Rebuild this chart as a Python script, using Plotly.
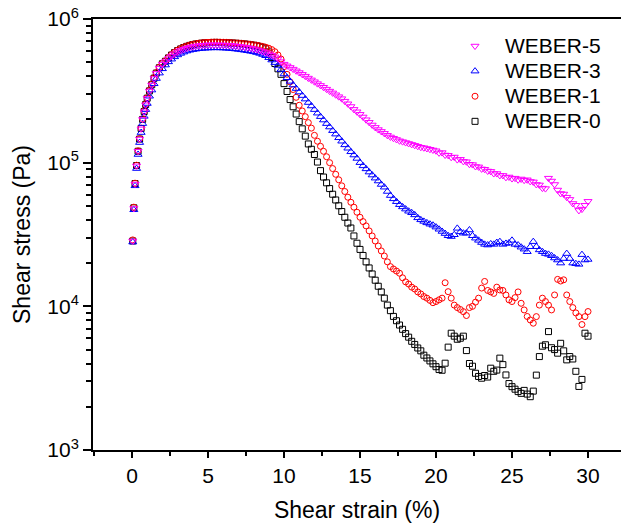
import plotly.graph_objects as go

# strain grid (%) shared by all series
strain = [0.05, 0.12, 0.2, 0.3, 0.4, 0.5, 0.6, 0.7, 0.8, 0.9, 1.0, 1.15, 1.3, 1.45, 1.6, 1.8, 2.0,
          2.2, 2.4, 2.6, 2.8,
          3.0, 3.2, 3.4, 3.6, 3.8, 4.0, 4.2, 4.4, 4.6, 4.8,
          5.0, 5.2, 5.4, 5.6, 5.8, 6.0, 6.2, 6.4, 6.6, 6.8,
          7.0, 7.2, 7.4, 7.6, 7.8, 8.0, 8.2, 8.4, 8.6, 8.8,
          9.0, 9.2, 9.4, 9.6, 9.8, 10.0, 10.2, 10.4, 10.6, 10.8,
          11.0, 11.2, 11.4, 11.6, 11.8, 12.0, 12.2, 12.4, 12.6, 12.8,
          13.0, 13.2, 13.4, 13.6, 13.8, 14.0, 14.2, 14.4, 14.6, 14.8,
          15.0, 15.2, 15.4, 15.6, 15.8, 16.0, 16.2, 16.4, 16.6, 16.8,
          17.0, 17.2, 17.4, 17.6, 17.8, 18.0, 18.2, 18.4, 18.6, 18.8,
          19.0, 19.2, 19.4, 19.6, 19.8, 20.0, 20.2, 20.4, 20.6, 20.8,
          21.0, 21.2, 21.4, 21.6, 21.8, 22.0, 22.2, 22.4, 22.6, 22.8,
          23.0, 23.2, 23.4, 23.6, 23.8, 24.0, 24.2, 24.4, 24.6, 24.8,
          25.0, 25.2, 25.4, 25.6, 25.8, 26.0, 26.2, 26.4, 26.6, 26.8,
          27.0, 27.2, 27.4, 27.6, 27.8, 28.0, 28.2, 28.4, 28.6, 28.8,
          29.0, 29.2, 29.4, 29.6, 29.8, 30.0]

weber5 = [28500, 48000, 71000, 95000, 120000, 146000, 172000, 200000, 226000, 253000,
          280000, 315000, 347000, 385000, 418000, 455000, 485000,
          505000, 530000, 552000, 572000,
          590000, 603000, 615000, 626000, 635000,
          642000, 648000, 652000, 656000, 658000,
          660000, 661000, 661000, 660000, 660000,
          659000, 658000, 656000, 653000, 650000,
          646000, 642000, 637000, 632000, 626000,
          620000, 612000, 603000, 594000, 584000,
          573000, 560000, 545000, 528000, 505000,
          485000, 472000, 460000, 448000, 436000,
          424000, 412000, 400000, 388000, 377000,
          366000, 355000, 345000, 335000, 325000,
          315000, 306000, 297000, 288000, 279000,
          268000, 257000, 246000, 235000, 226000,
          217000, 208000, 199000, 191000, 183000,
          176000, 170000, 165000, 160000, 155000,
          151000, 148000, 145000, 142000, 140000,
          138000, 136000, 134000, 132000, 130000,
          128000, 127000, 125500, 124000, 122500,
          121000, 117000, 117500, 113000, 112500,
          109000, 109500, 105000, 105500, 102000,
          101500, 97500, 97000, 94000, 93500,
          90500, 90000, 87500, 87000, 84000,
          84000, 81500, 81500, 79000, 79500,
          77500, 78000, 76000, 77000, 75500,
          76000, 74000, 73500, 70500, 70000,
          66500, 66000, 78000, 74500, 70500,
          64500, 61000, 60500, 57500, 55500,
          52000, 50500, 46500, 47500, 50500,
          53800]

weber3 = [28000, 47000, 69000, 91000, 114000, 138000, 162000, 187000, 210000, 234000,
          258000, 290000, 320000, 354000, 385000, 420000, 450000,
          478000, 503000, 525000, 545000,
          562000, 576000, 588000, 598000, 606000,
          612000, 617000, 621000, 624000, 626000,
          628000, 629000, 630000, 630000, 629000,
          628000, 626000, 624000, 621000, 618000,
          614000, 610000, 606000, 601000, 596000,
          591000, 584000, 576000, 566000, 555000,
          538000, 518000, 497000, 475000, 445000,
          414000, 390000, 368000, 347000, 328000,
          310000, 293000, 277000, 262000, 248000,
          234000, 221000, 209000, 198000, 187000,
          177000, 167000, 158000, 149000, 141000,
          133000, 126000, 119000, 113000, 107000,
          100000, 95000, 90500, 86000, 82000,
          78000, 74500, 70500, 67500, 63000,
          59000, 56000, 53500, 51000, 49200,
          47500, 45900, 44800, 43300, 41300,
          40000, 39000, 38100, 37300, 36700,
          35600, 34400, 33200, 32100, 31000,
          30600, 31500, 34900, 33000, 32300,
          32300, 34000, 31000, 29800, 28800,
          27800, 27000, 26700, 27200, 27000,
          27800, 28200, 27000, 27400, 27600,
          28800, 27000, 26700, 25800, 25000,
          24000, 26000, 28200, 26000, 24700,
          24000, 23300, 23000, 22500, 21700,
          21000, 20000, 21500, 23300, 21500,
          20000, 19800, 19600, 22900, 21000,
          21200]

weber1 = [29000, 49000, 72000, 96000, 121000, 147000, 174000, 202000, 229000, 256000,
          283000, 319000, 352000, 390000, 424000, 462000, 492000,
          512000, 540000, 565000, 588000,
          607000, 623000, 637000, 649000, 659000,
          667000, 674000, 679000, 683000, 686000,
          688000, 690000, 691000, 691000, 690000,
          689000, 688000, 686000, 684000, 682000,
          680000, 677000, 674000, 670000, 666000,
          662000, 657000, 651000, 644000, 636000,
          626000, 612000, 592000, 562000, 527000,
          466000, 412000, 365000, 323000, 285000,
          251000, 229000, 209000, 190000, 174000,
          155000, 141000, 130000, 120000, 110000,
          100000, 91000, 83000, 76000, 69000,
          63000, 57500, 53000, 49000, 45200,
          41700, 38900, 36300, 33500, 30900,
          28500, 26300, 24300, 22400, 20400,
          18900, 18200, 17600, 17000, 15800,
          14800, 14300, 13600, 13200, 12600,
          12200, 11700, 11400, 11000, 10600,
          10800, 11100, 11400, 14600, 12650,
          11400, 10200, 9800, 9500, 9180,
          8630, 9800, 10000, 10700, 11400,
          13400, 14900, 12900, 12600, 12300,
          13600, 13000, 12900, 12000, 11100,
          10800, 11500, 12600, 10500, 9440,
          8500, 8040, 7630, 8480, 10200,
          11400, 10800, 10200, 9440, 12000,
          15400, 15000, 15300, 12000, 10800,
          9800, 9000, 8480, 7470, 8480,
          9200]

weber0 = [28500, 48500, 71500, 95500, 120000, 146000, 173000, 200000, 227000, 254000,
          281000, 316000, 349000, 387000, 420000, 458000, 488000,
          508000, 536000, 561000, 584000,
          603000, 619000, 633000, 645000, 655000,
          663000, 670000, 675000, 679000, 682000,
          684000, 686000, 687000, 687000, 686000,
          685000, 684000, 682000, 680000, 678000,
          676000, 673000, 670000, 666000, 662000,
          657000, 651000, 644000, 635000, 620000,
          590000, 540000, 490000, 450000, 412000,
          355000, 313000, 275000, 245000, 218000,
          193000, 172000, 153000, 135000, 124000,
          114000, 101000, 88000, 79400, 72400,
          66000, 60300, 55000, 50100, 45700,
          41700, 38000, 35100, 30900, 27500,
          24900, 22600, 20400, 18500, 16800,
          15200, 13800, 12600, 11400, 10200,
          9330, 8510, 7940, 7410, 6920,
          6460, 6100, 5710, 5430, 5130,
          4900, 4570, 4370, 4170, 3980,
          3800, 3630, 3590, 4020, 5200,
          6500, 6200, 5900, 6000, 6200,
          4920, 4000, 3830, 3420, 3250,
          3160, 3300, 3220, 3710, 3530,
          3600, 4360, 3930, 3330, 2900,
          2760, 2650, 2550, 2480, 2600,
          2450, 2350, 2570, 3320, 4470,
          5280, 5400, 6670, 5150, 5000,
          4720, 5530, 4900, 4240, 4470,
          4300, 3530, 2770, 3100, 6500,
          6200]

series_names = ["WEBER-0", "WEBER-1", "WEBER-3", "WEBER-5"]
series_values = [weber0, weber1, weber3, weber5]
series_colors = ["#000000", "#FF0000", "#0000FF", "#FF00FF"]
series_symbols = ["square-open", "circle-open", "triangle-up-open", "triangle-down-open"]
series_sizes = [6, 6, 7, 7]

x_ticks = [0, 5, 10, 15, 20, 25, 30]
y_ticks = [1e3, 1e4, 1e5, 1e6]
y_ticktext = ["10<sup>3</sup>", "10<sup>4</sup>", "10<sup>5</sup>", "10<sup>6</sup>"]
y_minor = [m * 10 ** e for e in (3, 4, 5) for m in range(2, 10)]

FONT = "Liberation Sans, Arial, sans-serif"

fig = go.Figure()
for name, vals, col, sym, sz in zip(series_names, series_values, series_colors,
                                    series_symbols, series_sizes):
    fig.add_trace(go.Scatter(
        x=strain, y=vals, mode="markers",
        name='<span style="font-size:21px">' + name + '</span>',
        marker=dict(symbol=sym, size=sz, color=col, line=dict(color=col, width=1)),
    ))

fig.update_layout(
    width=621, height=529,
    margin=dict(l=93, r=0, t=19, b=79),
    plot_bgcolor="white", paper_bgcolor="white",
    font=dict(family=FONT, color="black", size=21),
    showlegend=True,
    legend=dict(
        x=0.6667, y=0.978, xanchor="left", yanchor="top",
        traceorder="reversed", bgcolor="rgba(0,0,0,0)",
        font=dict(family=FONT, size=17, color="black"),
        itemwidth=50,
    ),
)

fig.update_xaxes(
    range=[-2.566, 32.17],
    tickvals=x_ticks,
    ticks="outside", ticklen=6, tickwidth=1.5, tickcolor="black",
    minor=dict(dtick=2.5, tick0=0, ticks="outside", ticklen=4, tickwidth=1.5, tickcolor="black"),
    showline=True, linewidth=1.8, linecolor="black", mirror=True,
    showgrid=False, zeroline=False,
    tickfont=dict(family=FONT, size=21),
    title=dict(text="Shear strain (%)", font=dict(family=FONT, size=23), standoff=16),
)

fig.update_yaxes(
    type="log", range=[3, 6],
    tickvals=y_ticks, ticktext=y_ticktext,
    ticks="outside", ticklen=8, tickwidth=1.5, tickcolor="black",
    minor=dict(tickvals=y_minor, ticks="outside", ticklen=5, tickwidth=1.5, tickcolor="black"),
    showline=True, linewidth=1.8, linecolor="black", mirror=False,
    showgrid=False, zeroline=False,
    tickfont=dict(family=FONT, size=21),
    title=dict(text="Shear stress (Pa)", font=dict(family=FONT, size=23), standoff=10),
)

fig.write_html("out.html")
